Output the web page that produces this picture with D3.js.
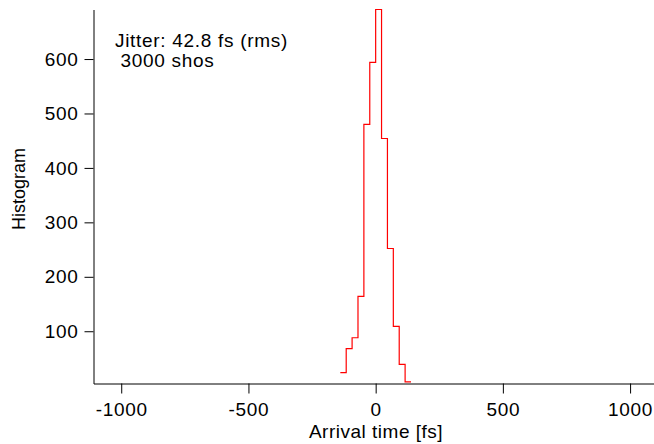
<!DOCTYPE html>
<html>
<head>
<meta charset="utf-8">
<script src="https://cdn.jsdelivr.net/npm/d3@7.9.0/dist/d3.min.js"></script>
<style>
  body { margin: 0; background: #fff; }
  svg { display: block; font-family: "Liberation Sans", Arial, Helvetica, sans-serif; }
  .axis text { font-size: 19px; letter-spacing: 0.7px; fill: #000; }
  .axis path, .axis line { stroke: #000; stroke-width: 1; }
</style>
</head>
<body>
<svg id="chart" width="654" height="444"></svg>
<script>
// histogram bins (fs), 23.15 fs wide, centred on 0
const binWidth = 23.15;
const binStarts = [-138.9, -115.75, -92.6, -69.45, -46.3, -23.15, 0, 23.15, 46.3, 69.45, 92.6, 115.75];
const counts = [24, 68, 88, 164, 480, 594, 691, 454, 252, 109, 39, 7];
const xTicks = [-1000, -500, 0, 500, 1000];
const yTicks = [100, 200, 300, 400, 500, 600];

let svg = d3.select('#chart');
let margin = { top: 9.5, right: 0, bottom: 60.5, left: 93.5 };
let width = 654 - margin.left - margin.right;
let height = 444 - margin.top - margin.bottom;

let g = svg.append("g").attr("transform", `translate(${margin.left},${margin.top})`);

let xScale = d3.scaleLinear().domain([-1109, 1094]).range([0, width]);
let yScale = d3.scaleLinear().domain([4, 691]).range([height, 0]);

// axes
g.append("g")
    .attr("class", "axis")
    .attr("transform", `translate(0,${height})`)
    .call(d3.axisBottom(xScale).tickValues(xTicks).tickSize(10).tickSizeOuter(0).tickPadding(9.5).tickFormat(d3.format("d")));

g.append("g")
    .attr("class", "axis")
    .call(d3.axisLeft(yScale).tickValues(yTicks).tickSize(9).tickSizeOuter(0).tickPadding(6));

g.selectAll(".axis .domain").attr("stroke", "#000");
// hyphen minus like the original
g.selectAll(".axis text").text(function () { return this.textContent.replace("\u2212", "-"); });

// step histogram
const steps = binStarts.map((s, i) => ({ x: s, y: counts[i] }));
steps.push({ x: binStarts[binStarts.length - 1] + binWidth, y: counts[counts.length - 1] });

let line = d3.line().x(d => xScale(d.x)).y(d => yScale(d.y)).curve(d3.curveStepAfter);

g.append("path")
    .datum(steps)
    .attr("fill", "none")
    .attr("stroke", "#ff0000")
    .attr("stroke-width", 1.2)
    .attr("d", line);

// axis titles
svg.append("text")
    .attr("x", 376)
    .attr("y", 438)
    .attr("text-anchor", "middle")
    .attr("font-size", "19px")
    .attr("letter-spacing", "0.5px")
    .text("Arrival time [fs]");

svg.append("text")
    .attr("transform", "translate(25,189) rotate(-90)")
    .attr("text-anchor", "middle")
    .attr("font-size", "18px")
    .text("Histogram");

// annotation
svg.append("text")
    .attr("x", 115)
    .attr("y", 47)
    .attr("font-size", "19px")
    .attr("letter-spacing", "0.7px")
    .text("Jitter: 42.8 fs (rms)");

svg.append("text")
    .attr("x", 120.5)
    .attr("y", 66.5)
    .attr("font-size", "19px")
    .attr("letter-spacing", "0.7px")
    .text("3000 shos");
</script>
</body>
</html>
